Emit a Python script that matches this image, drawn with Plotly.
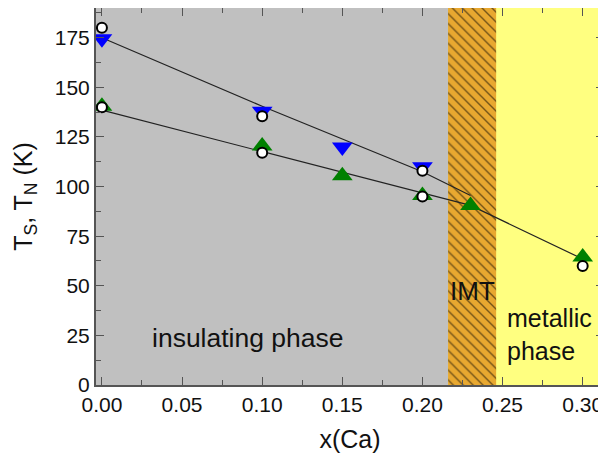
import plotly.graph_objects as go

# ---- data ----
x_ts = [0.0, 0.10, 0.15, 0.20]
ts_vals = [174.5, 138, 120, 110]

x_tn = [0.0, 0.10, 0.15, 0.20, 0.23, 0.30]
tn_vals = [140.5, 120.5, 105.5, 95.5, 90.5, 64.5]

x_open = [0.0, 0.0, 0.10, 0.10, 0.20, 0.20, 0.30]
open_vals = [180, 140, 135.5, 117, 108, 95, 60]

upper_line_x = [0.0, 0.10, 0.20, 0.23]
upper_line_y = [175, 140.5, 107.5, 95.5]
lower_line_x = [0.0, 0.23, 0.30]
lower_line_y = [138.5, 90.5, 63.5]

insulating_end = 0.216
imt_range = [0.216, 0.246]
x_range = [-0.0037, 0.3133]
y_range = [0, 190]

x_ticks = [0.0, 0.05, 0.10, 0.15, 0.20, 0.25, 0.30]
x_ticklabels = ["0.00", "0.05", "0.10", "0.15", "0.20", "0.25", "0.30"]
y_ticks = [0, 25, 50, 75, 100, 125, 150, 175]

FONT = "Liberation Sans, Arial, sans-serif"
AXCOL = "#555555"
TXT = "#111111"

fig = go.Figure()

# IMT hatched band
fig.add_trace(go.Scatter(
    x=[imt_range[0], imt_range[1], imt_range[1], imt_range[0], imt_range[0]],
    y=[y_range[0], y_range[0], y_range[1], y_range[1], y_range[0]],
    mode="lines", fill="toself", line=dict(width=0),
    fillcolor="#e8a830",
    fillpattern=dict(shape="\\", fgcolor="#000000", bgcolor="#e8a830", size=7, solidity=0.2),
    hoverinfo="skip", showlegend=False))

# guide lines
fig.add_trace(go.Scatter(x=upper_line_x, y=upper_line_y, mode="lines",
                         line=dict(color="#222222", width=1.2), showlegend=False))
fig.add_trace(go.Scatter(x=lower_line_x, y=lower_line_y, mode="lines",
                         line=dict(color="#222222", width=1.2), showlegend=False))

# markers
fig.add_trace(go.Scatter(x=x_ts, y=ts_vals, mode="markers",
                         marker=dict(symbol="triangle-down", size=18, color="#0000ff"),
                         showlegend=False))
fig.add_trace(go.Scatter(x=x_tn, y=tn_vals, mode="markers",
                         marker=dict(symbol="triangle-up", size=18, color="#008000"),
                         showlegend=False))
fig.add_trace(go.Scatter(x=x_open, y=open_vals, mode="markers",
                         marker=dict(symbol="circle", size=10, color="white",
                                     line=dict(color="black", width=2)),
                         showlegend=False))

# insulating (gray) background
fig.add_shape(type="rect", xref="x", yref="y", x0=x_range[0], x1=insulating_end,
              y0=y_range[0], y1=y_range[1], fillcolor="#c0c0c0", line=dict(width=0),
              layer="below")

fig.add_annotation(x=0.0913, y=23.6, text="insulating phase", showarrow=False,
                   font=dict(family=FONT, size=26.5, color=TXT),
                   xanchor="center", yanchor="middle")
fig.add_annotation(x=0.231, y=47.5, text="IMT", showarrow=False,
                   font=dict(family=FONT, size=26, color=TXT),
                   xanchor="center", yanchor="middle")
fig.add_annotation(x=0.2515, y=25.6, text="metallic<br>phase", showarrow=False,
                   align="left",
                   font=dict(family=FONT, size=25, color=TXT),
                   xanchor="left", yanchor="middle")

# the page body adds an 8px offset, so the figure is sized to the remaining area
fig.update_layout(
    width=598, height=448,
    margin=dict(l=88, r=2, t=0, b=71),
    paper_bgcolor="white",
    plot_bgcolor="#ffff80",
    font=dict(family=FONT, color=TXT),
    xaxis=dict(
        range=x_range, tickvals=x_ticks, ticktext=x_ticklabels,
        automargin=False,
        ticks="inside", ticklen=8, tickwidth=1.2, tickcolor=AXCOL,
        minor=dict(ticks="inside", dtick=0.025, tick0=0, ticklen=5, tickwidth=1.2, tickcolor=AXCOL),
        showline=True, linecolor=AXCOL, linewidth=2, mirror="ticks",
        showgrid=False, zeroline=False,
        tickfont=dict(family=FONT, size=21, color=TXT),
        title=dict(text="x(Ca)", font=dict(family=FONT, size=25, color=TXT)),
    ),
    yaxis=dict(
        range=y_range, tickvals=y_ticks,
        automargin=False,
        ticks="inside", ticklen=8, tickwidth=1.2, tickcolor=AXCOL,
        minor=dict(ticks="inside", dtick=12.5, tick0=0, ticklen=5, tickwidth=1.2, tickcolor=AXCOL),
        showline=True, linecolor=AXCOL, linewidth=2, mirror="ticks",
        showgrid=False, zeroline=False,
        tickfont=dict(family=FONT, size=21, color=TXT),
        title=dict(text="T<sub>S</sub>, T<sub>N</sub> (K)", font=dict(family=FONT, size=25, color=TXT)),
    ),
)

fig.write_html("out.html")
